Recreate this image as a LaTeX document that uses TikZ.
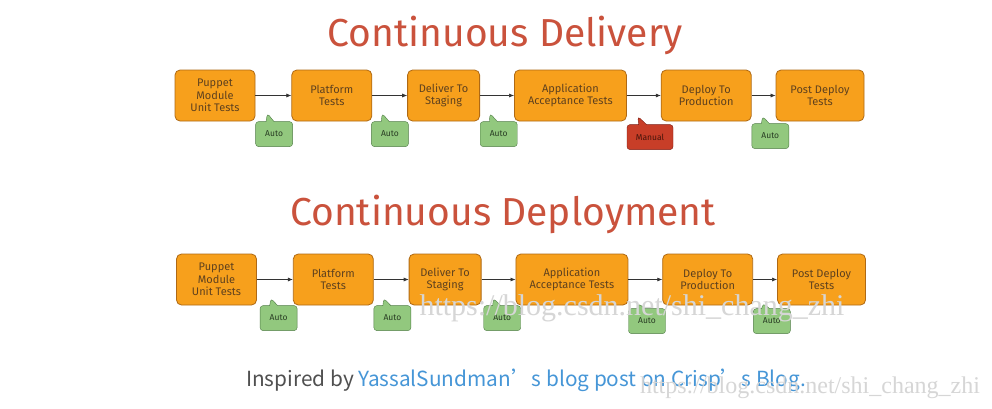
\documentclass[tikz,border=0pt]{standalone}
\usepackage{fontspec}
\setmainfont{Fira Sans}
\newfontfamily\cjk{Noto Sans CJK SC}
\newfontfamily\wmfont{Liberation Serif}
\usetikzlibrary{arrows.meta,positioning,shapes.callouts}
\definecolor{boxorange}{RGB}{247,160,28}
\definecolor{boxedge}{RGB}{175,105,20}
\definecolor{boxtext}{RGB}{95,65,30}
\definecolor{taggreen}{RGB}{146,200,126}
\definecolor{tagedge}{RGB}{80,125,70}
\definecolor{tagtext}{RGB}{40,60,35}
\definecolor{tagred}{RGB}{200,62,40}
\definecolor{redge}{RGB}{125,30,20}
\definecolor{redtext}{RGB}{70,20,10}
\definecolor{titlered}{RGB}{202,82,60}
\definecolor{linkblue}{RGB}{70,150,215}
\definecolor{plaingray}{RGB}{80,80,80}

\begin{document}
\begin{tikzpicture}[x=1pt,y=-1pt,>={Latex[length=5pt,width=4pt]}]
  \tikzstyle{stage}=[draw=boxedge,fill=boxorange,rounded corners=5pt,thick,align=center,minimum height=51pt,inner sep=1pt,text=boxtext,font=\fontsize{11}{12.5}\selectfont]
  \tikzset{tag/.style={rectangle callout,draw=tagedge,fill=taggreen,text=tagtext,rounded corners=3pt,minimum width=37pt,minimum height=25pt,inner sep=1pt,callout absolute pointer={#1},callout pointer width=8pt,anchor=north west,font=\fontsize{8.5}{10}\selectfont},
    manual/.style={tag={#1},draw=redge,fill=tagred,text=redtext,minimum width=46pt}}
  \tikzstyle{flow}=[->,semithick,black!80]
  \tikzstyle{heading}=[text=titlered,font=\fontsize{39}{42}\selectfont]
  \tikzstyle{watermark}=[text=black!16,font=\wmfont\selectfont]
  \useasboundingbox[fill=white] (0,0) rectangle (992,408);

  % continuous delivery
  \node[heading] (tdl) at (505,35) {Continuous Delivery};
  \node[stage,minimum width=80pt] (dl1) at (215,95.5) {Puppet\\Module\\Unit Tests};
  \node[stage,minimum width=80pt,right=36pt of dl1] (dl2) {Platform\\Tests};
  \node[stage,minimum width=72pt,right=35pt of dl2] (dl3) {Deliver To\\Staging};
  \node[stage,minimum width=112pt,right=34pt of dl3] (dl4) {Application\\Acceptance Tests};
  \node[stage,minimum width=90pt,right=34pt of dl4] (dl5) {Deploy To\\Production};
  \node[stage,minimum width=88pt,right=24pt of dl5] (dl6) {Post Deploy\\Tests};
  \foreach \a/\b in {dl1/dl2,dl2/dl3,dl3/dl4,dl4/dl5,dl5/dl6}
    \draw[flow] (\a) -- (\b);
  \node[tag={([xshift=12pt,yshift=8pt]dl1.south east)}] (ta1) at (dl1.south east) {Auto};
  \node[tag={([xshift=10pt,yshift=8pt]dl2.south east)}] (ta2) at ([xshift=-1pt]dl2.south east) {Auto};
  \node[tag={([xshift=10pt,yshift=8pt]dl3.south east)}] (ta3) at (dl3.south east) {Auto};
  \node[manual={([xshift=11pt,yshift=5pt]dl4.south east)}] (tm4) at ([yshift=-3pt]dl4.south east) {Manual};
  \node[tag={([xshift=11pt,yshift=5pt]dl5.south east)}] (ta5) at ([yshift=-2pt]dl5.south east) {Auto};

  % continuous deployment
  \node[heading] (tdp) at (503,214) {Continuous Deployment};
  \node[stage,minimum width=80pt] (dp1) at (216.5,279.5) {Puppet\\Module\\Unit Tests};
  \node[stage,minimum width=80pt,right=36pt of dp1] (dp2) {Platform\\Tests};
  \node[stage,minimum width=72pt,right=35pt of dp2] (dp3) {Deliver To\\Staging};
  \node[stage,minimum width=112pt,right=34pt of dp3] (dp4) {Application\\Acceptance Tests};
  \node[stage,minimum width=90pt,right=34pt of dp4] (dp5) {Deploy To\\Production};
  \node[stage,minimum width=88pt,right=24pt of dp5] (dp6) {Post Deploy\\Tests};
  \foreach \a/\b in {dp1/dp2,dp2/dp3,dp3/dp4,dp4/dp5,dp5/dp6}
    \draw[flow] (\a) -- (\b);
  \node[tag={([xshift=14pt,yshift=7pt]dp1.south east)}] (tb1) at ([xshift=3pt]dp1.south east) {Auto};
  \node[tag={([xshift=10pt,yshift=7pt]dp2.south east)}] (tb2) at (dp2.south east) {Auto};
  \node[tag={([xshift=12pt,yshift=7pt]dp3.south east)}] (tb3) at ([xshift=2pt]dp3.south east) {Auto};
  \node[tag={([xshift=10pt,yshift=2pt]dp4.south east)}] (tb4) at ([yshift=-3pt]dp4.south east) {Auto};
  \node[tag={([xshift=10pt,yshift=2pt]dp5.south east)}] (tb5) at ([yshift=-3pt]dp5.south east) {Auto};

  \node[font=\cjk\fontsize{20.8}{24}\selectfont,text=plaingray] (credit) at (526,380)
    {Inspired by \textcolor{linkblue}{YassalSundman’s blog post on Crisp’s Blog.}};
  \node[watermark,font=\wmfont\fontsize{30}{32}\selectfont] (wm1) at (632,308) {https://blog.csdn.net/shi\_chang\_zhi};
  \node[watermark,font=\wmfont\fontsize{24}{26}\selectfont] (wm2) at (810,388) {https://blog.csdn.net/shi\_chang\_zhi};
\end{tikzpicture}
\end{document}
